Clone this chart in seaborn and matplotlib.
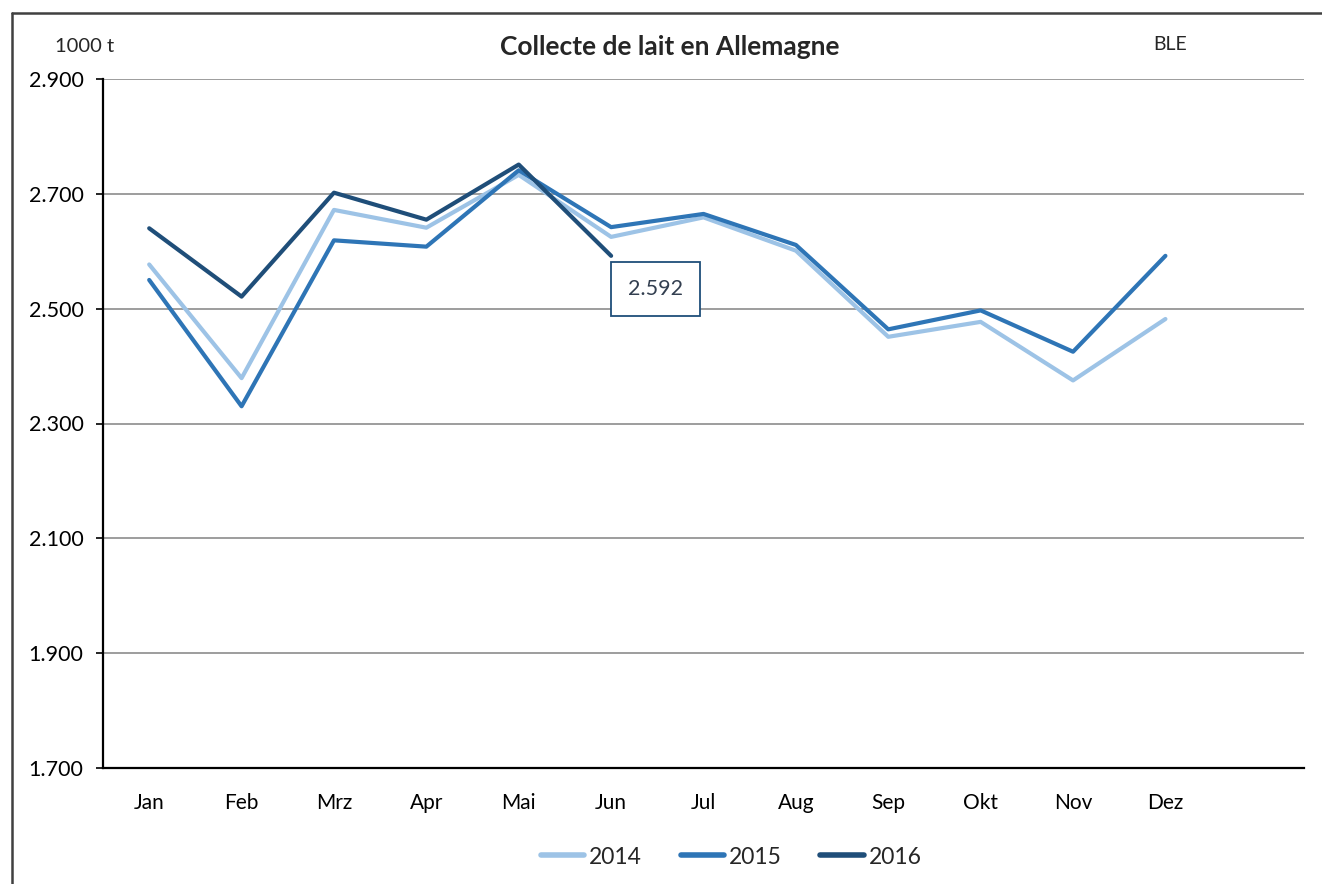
import matplotlib
matplotlib.use("Agg")
import matplotlib.pyplot as plt
from matplotlib.lines import Line2D
from matplotlib.ticker import FixedLocator, FuncFormatter
import pandas as pd
import seaborn as sns

# data (1000 t)
months = ["Jan", "Feb", "Mrz", "Apr", "Mai", "Jun", "Jul", "Aug", "Sep", "Okt", "Nov", "Dez"]
milk_2014 = [2577, 2379, 2672, 2641, 2733, 2625, 2659, 2601, 2451, 2477, 2375, 2482]
milk_2015 = [2550, 2330, 2619, 2608, 2741, 2642, 2665, 2611, 2464, 2497, 2425, 2592]
milk_2016 = [2640, 2521, 2702, 2655, 2751, 2592]
years = ["2014", "2015", "2016"]
yticks = [1700, 1900, 2100, 2300, 2500, 2700, 2900]

rows = []
for year, vals in zip(years, [milk_2014, milk_2015, milk_2016]):
    for m, v in zip(months, vals):
        rows.append([year, m, months.index(m), v])
df = pd.DataFrame(rows, columns=["Jahr", "Monat", "idx", "Menge"])

sns.set_style("white")
plt.rcParams["font.family"] = ["Lato", "DejaVu Sans"]

palette = {"2014": "#9dc3e6", "2015": "#2e75b6", "2016": "#1f4e79"}

fig = plt.figure(figsize=(13.22, 8.84), dpi=100)
ax = fig.add_axes([103 / 1322, 116 / 884, 1201 / 1322, 689 / 884])

sns.lineplot(data=df, x="idx", y="Menge", hue="Jahr", palette=palette,
             linewidth=3.0, ax=ax, legend=False, sort=False)

ax.set_xlim(-0.5, 12.5)
ax.set_ylim(yticks[0], yticks[-1])
ax.set_yticks(yticks)
ax.yaxis.set_major_formatter(FuncFormatter(lambda v, p: f"{v:,.0f}".replace(",", ".")))
ax.set_xticks(range(len(months)))
ax.set_xticklabels(months)
ax.xaxis.set_minor_locator(FixedLocator([i - 0.5 for i in range(len(months) + 2)]))
ax.tick_params(axis="x", which="major", length=0, pad=18, labelsize=15, colors="black")
ax.tick_params(axis="x", which="minor", length=5, width=1.5, direction="out", color="black")
ax.tick_params(axis="y", which="major", length=5, width=1.2, direction="out", pad=9,
               labelsize=15.5, colors="black", left=True)
ax.set_xlabel("")
ax.set_ylabel("")

ax.yaxis.grid(True, color="#8c8c8c", linewidth=1.2)
ax.set_axisbelow(True)
for side in ["top", "right"]:
    ax.spines[side].set_visible(False)
for side in ["left", "bottom"]:
    ax.spines[side].set_color("black")
    ax.spines[side].set_linewidth(1.6)

# label for last 2016 value
ax.annotate(f"{milk_2016[-1]:,}".replace(",", "."), xy=(5, milk_2016[-1]),
            xytext=(32, -24), textcoords="offset points", ha="center", va="center",
            fontsize=15.5, color="#333f50",
            bbox=dict(boxstyle="square,pad=0.8", fc="white", ec="#1f4e79", lw=1.3))

fig.text(670 / 1322, 1 - 47 / 884, "Collecte de lait en Allemagne", ha="center", va="center",
         fontsize=19, fontweight="bold")
fig.text(55 / 1322, 1 - 47 / 884, "1000 t", ha="left", va="center", fontsize=14.5)
fig.text(1170 / 1322, 1 - 45 / 884, "BLE", ha="center", va="center", fontsize=14)

handles = [Line2D([0], [0], color=palette[y], lw=4, solid_capstyle="round") for y in years]
fig.legend(handles, years, loc="center", bbox_to_anchor=(0.553, 1 - 857 / 884), ncol=3,
           frameon=False, fontsize=16.5, handlelength=1.9, handletextpad=0.2, columnspacing=1.7)

# chart area frame (left and top edges visible in the reference)
fig.add_artist(Line2D([12 / 1322, 12 / 1322], [0, 1 - 13 / 884], color="#404040", lw=1.8))
fig.add_artist(Line2D([12 / 1322, 1], [1 - 13 / 884, 1 - 13 / 884], color="#404040", lw=1.8))

fig.savefig("out.png", dpi=100)
